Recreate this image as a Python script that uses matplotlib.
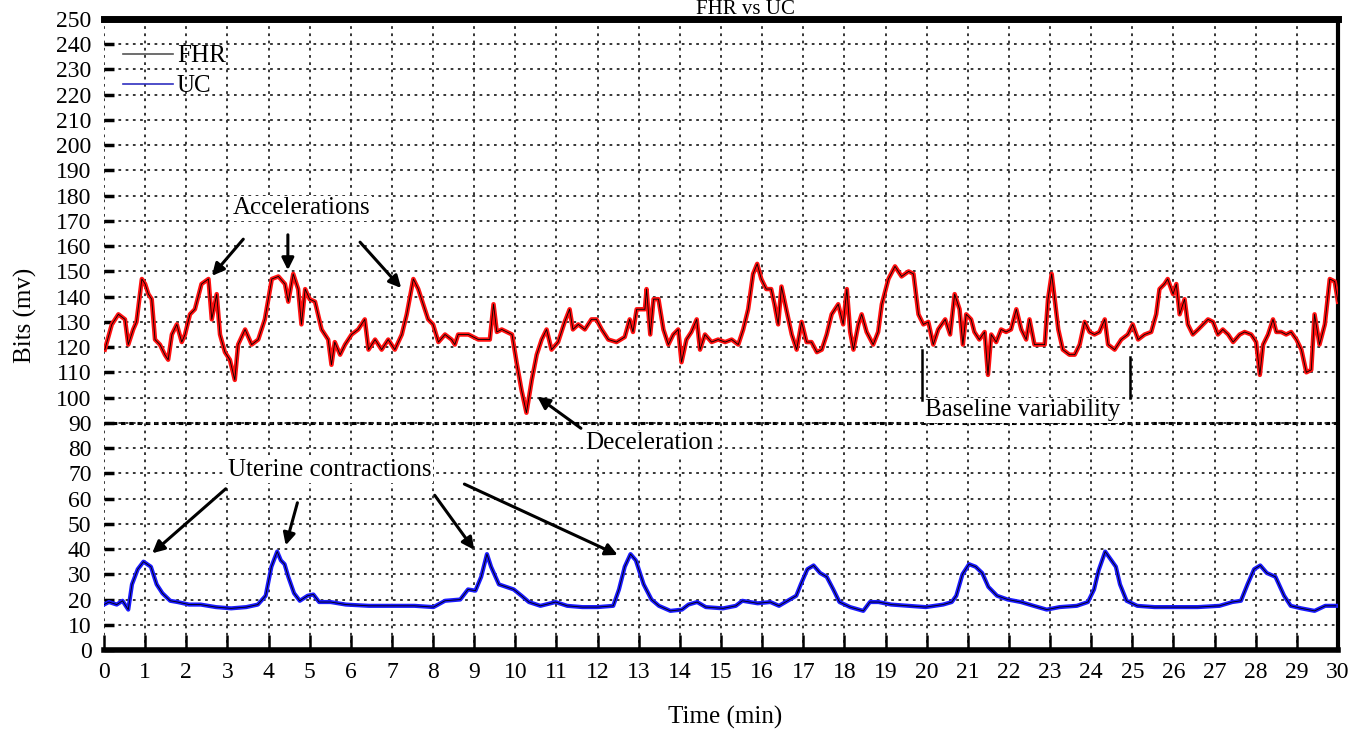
import matplotlib
matplotlib.use('agg')
import matplotlib.pyplot as plt
from matplotlib.lines import Line2D

plt.rcParams['font.family'] = ['Liberation Serif', 'DejaVu Serif']

# FHR trace (min, value)
fhr_t = [0.02, 0.19, 0.35, 0.51, 0.59, 0.71, 0.79, 0.92, 1.0, 1.08, 1.16, 1.24, 1.36, 1.48, 1.56,
         1.65, 1.77, 1.89, 1.97, 2.09, 2.21, 2.37, 2.54, 2.62, 2.74, 2.82, 2.94, 3.06, 3.18, 3.26,
         3.43, 3.59, 3.75, 3.91, 4.08, 4.24, 4.4, 4.48, 4.6, 4.72, 4.8, 4.89, 5.0, 5.13, 5.29,
         5.45, 5.53, 5.61, 5.74, 5.86, 6.02, 6.18, 6.34, 6.43, 6.59, 6.75, 6.91, 7.07, 7.24, 7.36,
         7.52, 7.64, 7.76, 7.88, 8.0, 8.13, 8.29, 8.45, 8.53, 8.61, 8.86, 9.1, 9.38, 9.47, 9.55,
         9.67, 9.92, 10.03, 10.15, 10.27, 10.4, 10.52, 10.64, 10.76, 10.88, 11.04, 11.2, 11.32, 11.4,
         11.53, 11.69, 11.85, 11.97, 12.1, 12.26, 12.46, 12.66, 12.78, 12.86, 12.95, 13.15, 13.19,
         13.28, 13.36, 13.48, 13.6, 13.72, 13.84, 13.96, 14.04, 14.16, 14.28, 14.41, 14.49, 14.61,
         14.77, 14.93, 15.1, 15.26, 15.42, 15.54, 15.66, 15.78, 15.88, 15.98, 16.1, 16.22, 16.3,
         16.39, 16.47, 16.6, 16.72, 16.84, 16.96, 17.08, 17.2, 17.33, 17.45, 17.57, 17.69, 17.85,
         17.97, 18.06, 18.14, 18.22, 18.34, 18.42, 18.54, 18.7, 18.82, 18.91, 19.07, 19.23, 19.39,
         19.56, 19.68, 19.8, 19.92, 20.04, 20.16, 20.28, 20.45, 20.57, 20.68, 20.8, 20.88, 20.96,
         21.08, 21.16, 21.28, 21.41, 21.49, 21.57, 21.69, 21.81, 21.93, 22.05, 22.18, 22.3, 22.42,
         22.5, 22.62, 22.78, 22.87, 22.95, 23.04, 23.12, 23.2, 23.31, 23.47, 23.6, 23.72, 23.84,
         23.96, 24.08, 24.2, 24.33, 24.41, 24.57, 24.73, 24.89, 25.01, 25.14, 25.3, 25.46, 25.58,
         25.66, 25.78, 25.86, 25.99, 26.07, 26.15, 26.27, 26.35, 26.47, 26.6, 26.72, 26.84, 26.96,
         27.08, 27.2, 27.33, 27.45, 27.61, 27.73, 27.89, 28.01, 28.1, 28.18, 28.3, 28.42, 28.5,
         28.62, 28.74, 28.86, 28.99, 29.11, 29.23, 29.35, 29.43, 29.55, 29.68, 29.8, 29.92, 30.0]
fhr_v = [119, 129, 133, 131, 121, 127, 130, 147, 145, 141, 139, 123, 121, 117, 115,
         125, 129, 122, 125, 133, 135, 145, 147, 131, 141, 125, 118, 115, 107, 121,
         127, 121, 123, 131, 147, 148, 145, 138, 149, 143, 129, 143, 139, 138, 127,
         123, 113, 122, 117, 121, 125, 127, 131, 119, 123, 119, 123, 119, 125, 133,
         147, 143, 137, 131, 129, 122, 125, 123, 121, 125, 125, 123, 123, 137, 126,
         127, 125, 114, 103, 94, 107, 117, 123, 127, 119, 122, 130, 135, 127,
         129, 127, 131, 131, 127, 123, 122, 124, 131, 126, 135, 135, 143,
         125, 139, 139, 127, 121, 125, 127, 114, 123, 126, 131, 119, 125,
         122, 123, 122, 123, 121, 127, 135, 149, 153, 147, 143, 143, 137,
         129, 144, 134, 125, 119, 130, 122, 122, 118, 119, 125, 133, 137,
         129, 143, 126, 119, 129, 133, 126, 121, 126, 137, 147, 152, 148,
         150, 149, 133, 129, 130, 121, 127, 131, 125, 141, 135, 121, 133,
         131, 126, 123, 126, 109, 125, 122, 127, 126, 127, 135, 127, 123,
         131, 121, 121, 121, 139, 149, 138, 127, 119, 117, 117, 121, 130,
         126, 125, 126, 131, 121, 119, 123, 125, 129, 123, 125, 126, 133,
         143, 145, 147, 141, 145, 133, 139, 129, 125, 127, 129, 131, 130,
         125, 127, 125, 122, 125, 126, 125, 122, 109, 121, 125, 131, 126,
         126, 125, 126, 123, 119, 110, 111, 133, 121, 129, 147, 146, 138]

# UC trace
uc_t = [0.0, 0.12, 0.31, 0.45, 0.59, 0.68, 0.82, 0.96, 1.05, 1.14, 1.28, 1.42, 1.61, 1.79, 2.07,
        2.35, 2.72, 3.09, 3.46, 3.74, 3.93, 4.07, 4.21, 4.3, 4.39, 4.48, 4.62, 4.76, 4.95, 5.09,
        5.23, 5.51, 5.88, 6.44, 7.0, 7.55, 8.01, 8.29, 8.66, 8.85, 9.03, 9.17, 9.31, 9.41, 9.6,
        9.78, 9.96, 10.15, 10.33, 10.61, 10.98, 11.26, 11.63, 12.0, 12.38, 12.52, 12.66, 12.8,
        12.93, 13.12, 13.31, 13.49, 13.77, 14.05, 14.21, 14.42, 14.63, 15.05, 15.36, 15.52, 15.89,
        16.2, 16.41, 16.62, 16.83, 16.94, 17.1, 17.25, 17.41, 17.57, 17.73, 17.88, 18.14, 18.46,
        18.62, 18.83, 19.14, 19.56, 19.98, 20.4, 20.61, 20.72, 20.87, 21.03, 21.19, 21.35, 21.5,
        21.71, 21.97, 22.29, 22.6, 22.92, 23.23, 23.65, 23.92, 24.07, 24.18, 24.34, 24.49, 24.6,
        24.7, 24.86, 25.12, 25.54, 26.07, 26.59, 27.12, 27.43, 27.64, 27.8, 27.96, 28.11, 28.27,
        28.48, 28.69, 28.85, 29.11, 29.43, 29.69, 29.95]
uc_v = [18, 19, 18, 19.5, 16, 26, 32, 35, 34, 33, 26, 22.5, 19.5, 19, 18,
        18, 17, 16.5, 17, 18, 21.5, 33, 39, 35.5, 34, 29, 22.5, 19.5, 21.5, 22,
        19, 19, 18, 17.5, 17.5, 17.5, 17, 19.5, 20, 24, 23.5, 29, 38, 33, 26,
        25, 24, 21.5, 19, 17.5, 19, 17.5, 17, 17, 17.5, 24, 33, 38,
        35.5, 26, 20, 17.5, 15.5, 16, 18, 19, 17, 16.5, 17.5, 19.5, 18.5,
        19, 17.5, 19.5, 21.5, 26, 32, 33.5, 30.5, 29, 24, 19, 17, 15.5,
        19, 19, 18, 17.5, 17, 18, 19, 21.5, 30, 34, 33, 30.5, 25,
        21.5, 20, 19, 17.5, 16, 17, 17.5, 19, 24, 31.5, 39, 35.5, 33,
        26, 19.5, 17.5, 17, 17, 17, 17.5, 19, 19.5, 26, 32, 33.5, 30.5,
        29, 21.5, 17.5, 16.5, 15.5, 17.5, 17.5]

fig = plt.figure(figsize=(13.56, 7.32), dpi=100)
ax = fig.add_axes([104 / 1356, 1 - 650 / 732, 1234 / 1356, 631 / 732])

ax.plot(fhr_t, fhr_v, color='#ff1010', lw=3.2, zorder=3)
ax.plot(fhr_t, fhr_v, color='black', lw=0.6, zorder=4)
ax.plot(uc_t, uc_v, color='#1a1aff', lw=3.0, zorder=3)
ax.plot(uc_t, uc_v, color='black', lw=0.6, zorder=4)

ax.set_xlim(0, 30)
ax.set_ylim(0, 250)
ax.set_xticks(range(0, 31))
ax.set_yticks(range(0, 251, 10))
ax.tick_params(axis='x', direction='in', length=11, width=1.8, labelsize=17, pad=9)
ax.tick_params(axis='y', direction='in', length=7, width=2.5, labelsize=17, pad=9)
ax.grid(True, color='0.15', linestyle=(0, (1.5, 2.5)), lw=1.3, zorder=1)
ax.axhline(90, color='black', linestyle=(0, (1.5, 1.2)), lw=2.2, zorder=1)

ax.spines['left'].set_visible(False)
ax.spines['top'].set_linewidth(5)
ax.spines['bottom'].set_linewidth(4)
ax.spines['right'].set_linewidth(3)

handles = [Line2D([], [], color='#555555', lw=1.2), Line2D([], [], color='#3030c0', lw=1.2)]
ax.legend(handles, ['FHR', 'UC'], loc='upper left', bbox_to_anchor=(19 / 1234, 1 - 26 / 631),
          frameon=False, fontsize=18, handlelength=2.0, handletextpad=0.15,
          borderpad=0, borderaxespad=0, labelspacing=0.3)

box = dict(facecolor='white', edgecolor='none', pad=1)
arrow = dict(arrowstyle='-|>', color='black', lw=2.2, mutation_scale=18)

ax.text(3.14, 175, 'Accelerations', fontsize=18, va='center', bbox=box, zorder=5)
ax.annotate('', xy=(2.58, 147.4), xytext=(3.43, 163.6), arrowprops=arrow, zorder=5)
ax.annotate('', xy=(4.47, 149.4), xytext=(4.47, 165.6), arrowprops=arrow, zorder=5)
ax.annotate('', xy=(7.27, 142.6), xytext=(6.18, 162.4), arrowprops=arrow, zorder=5)

ax.text(11.69, 82, 'Deceleration', fontsize=18, va='center', bbox=box, zorder=5)
ax.annotate('', xy=(10.48, 101), xytext=(11.65, 87.2), arrowprops=arrow, zorder=5)

ax.plot([19.89, 19.89], [119, 99], color='black', lw=1.8, zorder=5)
ax.plot([24.95, 24.95], [116, 100], color='black', lw=1.8, zorder=5)
ax.text(19.96, 95, 'Baseline variability', fontsize=18, va='center', bbox=box, zorder=5)

ax.text(3.01, 71.3, 'Uterine contractions', fontsize=18, va='center', bbox=box, zorder=5)
ax.annotate('', xy=(1.12, 37.6), xytext=(3.01, 64.6), arrowprops=arrow, zorder=5)
ax.annotate('', xy=(4.40, 40.4), xytext=(4.72, 59.4), arrowprops=arrow, zorder=5)
ax.annotate('', xy=(9.04, 38.8), xytext=(8.0, 62.2), arrowprops=arrow, zorder=5)
ax.annotate('', xy=(12.55, 37.2), xytext=(8.70, 66.2), arrowprops=arrow, zorder=5)

# the reference crops this title at the top edge; keep it just inside
fig.text(745 / 1356, 1 - 9 / 732, 'FHR vs UC', fontsize=15, ha='center', va='center')
fig.text(25 / 1356, 1 - 315 / 732, 'Bits (mv)', fontsize=18, rotation=90, ha='center', va='center')
fig.text(725 / 1356, 1 - 717 / 732, 'Time (min)', fontsize=18, ha='center', va='center')

fig.savefig('out.png', dpi=100)
